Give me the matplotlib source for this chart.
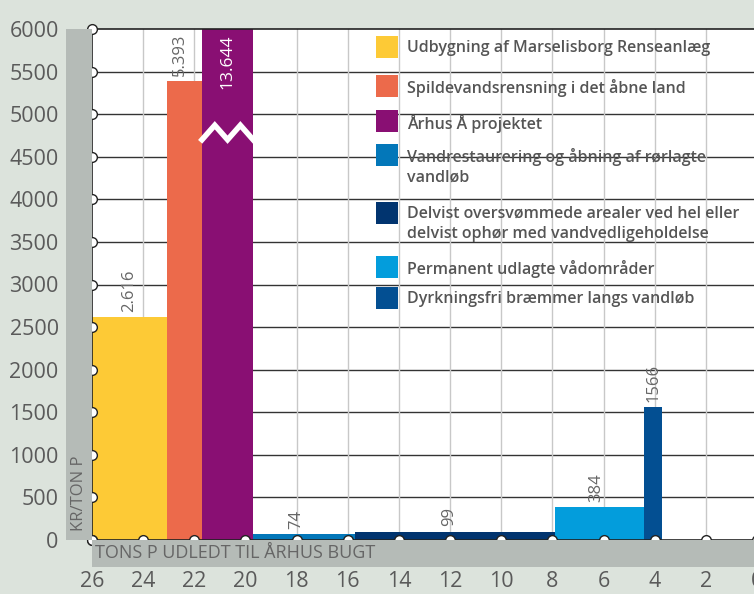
import matplotlib.pyplot as plt
from matplotlib.patches import Rectangle

plt.rcParams['font.family'] = ['Open Sans', 'DejaVu Sans']

# data
categories = ['Udbygning af Marselisborg Renseanlæg',
              'Spildevandsrensning i det åbne land',
              'Århus Å projektet',
              'Vandrestaurering og åbning af rørlagte\nvandløb',
              'Delvist oversvømmede arealer ved hel eller\ndelvist ophør med vandvedligeholdelse',
              'Permanent udlagte vådområder',
              'Dyrkningsfri bræmmer langs vandløb']
tons_reduced = [2.93, 1.37, 2.0, 3.97, 7.85, 3.48, 0.7]   # bar widths (tons P)
kr_per_ton = [2616, 5393, 13644, 74, 99, 384, 1566]
value_labels = ['2.616', '5.393', '13.644', '74', '99', '384', '1566']
colors = ['#fdca36', '#ec6a4b', '#890f73', '#0377b9', '#01346f', '#039ddc', '#034f92']
start_tons = 26
ymax = 6000

bg = '#dce3dc'
strip = '#b5bbb7'
txt = '#5a5a5a'

fig = plt.figure(figsize=(7.54, 5.94), dpi=100, facecolor=bg)
W, H = 754, 594
ax = fig.add_axes([92 / W, 54 / H, 665 / W, 511 / H])
ax.set_facecolor('white')

# grey strips
fig.patches.append(Rectangle((66 / W, 54 / H), 26 / W, 511 / H, transform=fig.transFigure,
                             facecolor=strip, edgecolor='none', zorder=0))
fig.patches.append(Rectangle((92 / W, 27 / H), 662 / W, 27 / H, transform=fig.transFigure,
                             facecolor=strip, edgecolor='none', zorder=0))
fig.text(95 / W, 41 / H, 'TONS P UDLEDT TIL ÅRHUS BUGT', fontsize=13, color='#666666',
         va='center', ha='left')
fig.text(79 / W, 63 / H, 'KR/TON P', fontsize=12, color='#666666', rotation=90,
         va='bottom', ha='center')

# grid
for yv in range(500, ymax, 500):
    ax.axhline(yv, color='#333333', lw=1.0, zorder=1)
for xv in range(2, 26, 2):
    ax.axvline(xv, color='#c8c8c8', lw=1.0, zorder=1)

# bars
left = start_tons
centers = []
for w, v, c in zip(tons_reduced, kr_per_ton, colors):
    ax.bar(left, min(v, ymax), width=-w, align='edge', color=c, edgecolor='none', zorder=2)
    centers.append(left - w / 2)
    left -= w

# break mark on the clipped bar
i_big = 2
bl = start_tons - sum(tons_reduced[:i_big])
bw = tons_reduced[i_big]
zx = [bl - bw * k / 4 for k in range(5)]
zy = [4700, 4870, 4700, 4870, 4700]
ax.plot(zx, zy, color='white', lw=4, solid_joinstyle='miter', zorder=3)

# value labels (offsets in tons; x axis runs right to left)
offsets = [0, 0.17, 0, 0.28, 0.25, 0.16, 0]
for i, (v, lab) in enumerate(zip(kr_per_ton, value_labels)):
    x = centers[i] + offsets[i]
    if v > ymax:
        ax.text(x, ymax - 70, lab, rotation=90, color='white', fontsize=12.5,
                ha='center', va='top', zorder=4)
    else:
        ax.text(x, v + 60, lab, rotation=90, color='#666666', fontsize=12,
                ha='center', va='bottom', zorder=4)

# legend
leg_y = [47, 86, 121, 155, 213, 267, 298]
for lab, c, yp in zip(categories, colors, leg_y):
    yf = 1 - yp / H
    fig.patches.append(Rectangle((376 / W, yf - 11 / H), 22 / W, 22 / H, transform=fig.transFigure,
                                 facecolor=c, edgecolor='none', zorder=5))
    fig.text(407 / W, yf + 7 / H, lab, fontsize=11.5, fontweight='semibold', color='#555555',
             va='top', ha='left', linespacing=1.3, zorder=6)

ax.set_xlim(26, 0)
ax.set_ylim(0, ymax)
ax.set_xticks(range(26, -1, -2))
ax.set_yticks(range(0, ymax + 1, 500))
ax.tick_params(length=0, labelsize=15.5, labelcolor=txt)
ax.tick_params(axis='y', pad=24)
ax.tick_params(axis='x', pad=22)
for s in ['left', 'bottom', 'top']:
    ax.spines[s].set_color('#222222')
    ax.spines[s].set_linewidth(1.2)
ax.spines['right'].set_visible(False)

# axis markers
ax.plot([26] * 13, range(0, ymax + 1, 500), 'o', ms=7, mfc='white', mec='#222222', mew=1,
        clip_on=False, zorder=7)
ax.plot(range(26, -1, -2), [0] * 14, 'o', ms=7, mfc='white', mec='#222222', mew=1,
        clip_on=False, zorder=7)

fig.savefig('out.png', dpi=100, facecolor=bg)
